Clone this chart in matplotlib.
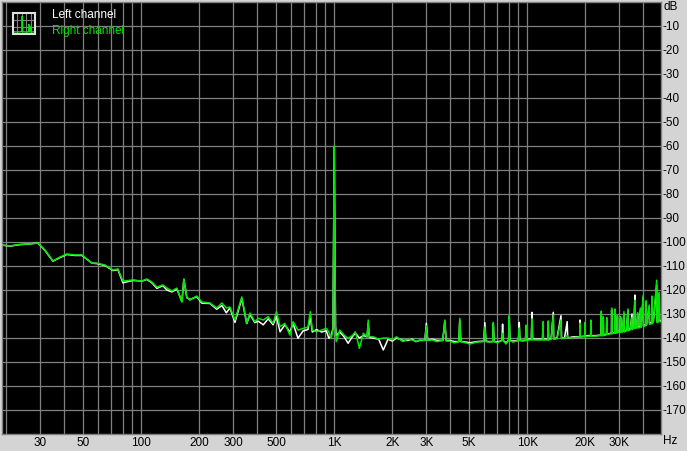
import matplotlib.pyplot as plt
from matplotlib.ticker import NullLocator

plt.rcParams['font.family'] = ['Liberation Sans', 'DejaVu Sans']

# spectrum, Hz / dB
freq = [19.0, 21.0, 23.5, 26.5, 29.1, 31.7, 34.9, 37.9, 41.2, 45.3, 49.3, 55.5, 58.9, 64.9,
        71.4, 75.7, 80.4, 90.6, 100.8, 107, 113.6, 120.6, 129.5, 135.9, 144.2, 153, 162.5,
        166.3, 172.3, 178.5, 194, 206, 227, 246, 262, 276, 288, 306, 332, 352, 366, 388,
        404, 429, 455, 482, 502, 524, 555, 589, 612, 649, 690, 730, 752, 770, 809, 859,
        910, 938, 964, 985, 1000, 1015, 1025, 1068, 1125, 1180, 1240, 1286, 1350, 1415,
        1480, 1500, 1520, 1590, 1700, 1795, 1900, 2000, 2100, 2270, 2400, 2530, 2650, 2770,
        2950, 3000, 3050, 3210, 3400, 3650, 3740, 3800, 3960, 4200, 4420, 4470, 4530, 4650,
        5050, 5480, 5950, 6030, 6110, 6300, 6620, 6670, 6730, 6980, 7400, 7450, 7500, 7756,
        8000, 8066, 8130, 8433, 9000, 9090, 9160, 9500, 9800, 9850, 9900, 10180, 10500,
        10580, 10660, 11100, 12000, 12060, 12120, 12500, 12800, 12850, 12900, 13300, 13640,
        13700, 14260, 14950, 15050, 15600, 16100, 16200, 17300, 18700, 18750, 18800, 19300,
        19850, 19910, 19970, 20600, 21300, 21380, 21460, 22600, 24100, 24180, 24300, 24700,
        24770, 24840, 25720, 25800, 25880, 26000, 27300, 27370, 27450, 28400, 28470, 28540,
        29220, 29300, 29380, 29500, 30400, 30480,
        30560, 31100, 31700, 31800, 32600, 33260, 33350, 34200, 34880, 34960, 35600, 36140,
        36240, 36800, 37340, 37440, 38500, 38600, 38700, 38800, 39900, 40000,
        41200, 41300, 41400, 41500, 42870, 42980, 44000, 44200, 44300, 44400, 45000,
        46830, 46950, 47600, 48300, 48450, 49300]

right_db = [-101.3, -101.6, -101.0, -100.8, -100.4, -103.3, -107.9, -106.3, -105.0, -105.4,
            -105.4, -108.8, -108.8, -109.6, -111.7, -111.2, -116.3, -115.8, -116.3, -115.4,
            -116.7, -118.8, -117.9, -119.2, -120.4, -119.2, -125.0, -115.4, -122.9, -124.2,
            -122.5, -125.0, -125.4, -127.5, -125.4, -127.5, -127.1, -132.5, -122.9, -133.8,
            -129.6, -133.2, -131.8, -132.5, -131.1, -133.9, -129.0, -135.3, -133.9, -138.8,
            -133.2, -136.7, -136.0, -135.5, -129.0, -136.7, -137.4, -136.7, -136.0, -137.5,
            -140.1, -136.5, -60.0, -135.0, -141.5, -136.7, -138.8, -140.1, -139.0, -137.4,
            -144.3, -138.0, -139.5, -132.5, -139.5, -139.5, -140.5, -140.0, -140.1, -140.8,
            -139.5, -141.5, -140.5, -140.8, -141.5, -140.8, -141.0, -134.9, -141.0, -140.8,
            -141.5, -141.0, -132.5, -141.3, -141.3, -142.0, -141.5, -131.8, -141.5, -141.7,
            -142.5, -141.7, -141.5, -135.4, -141.5, -141.7, -141.5, -133.5, -141.5, -142.0,
            -141.0, -138.0, -141.0, -142.5, -141.0, -130.7, -141.0, -141.7, -141.0, -135.8,
            -141.0, -141.3, -141.0, -134.6, -141.0, -140.8, -140.8, -132.0, -140.8, -140.8,
            -140.8, -133.2, -140.8, -140.8, -140.8, -132.9, -140.8, -140.5, -130.4, -140.5,
            -140.3, -132.5, -140.3, -140.0, -139.0, -140.0, -139.8, -139.6, -133.8, -139.6,
            -139.5, -139.5, -133.5, -139.5, -139.3, -139.3, -132.5, -139.3, -139.2, -139.0,
            -128.8, -139.0, -139.0, -131.1, -139.0, -138.6, -131.5, -138.6, -138.5, -138.2,
            -127.6, -138.2, -138.0, -127.9, -138.0, -137.8, -130.5, -137.8, -137.5, -137.5,
            -131.1, -137.5, -137.5, -129.0, -137.5, -137.0, -127.9, -137.0, -136.5, -131.5,
            -136.5, -136.0, -124.2, -136.0, -135.8, -129.5, -135.8, -135.6, -127.5, -135.6,
            -135.5, -122.1, -135.3, -134.7, -124.5, -134.6, -134.5, -126.3, -134.3, -134.0,
            -134.0, -122.5, -134.0, -133.5, -115.9, -133.5, -133.5, -121.1, -133.0, -133.3]

left_db = [-101.3, -101.7, -101.1, -100.8, -100.4, -103.5, -108.0, -106.5, -105.2, -105.6,
           -105.6, -108.8, -109.0, -109.8, -111.9, -111.5, -117.0, -116.0, -116.3, -115.6,
           -117.0, -119.3, -118.2, -120.0, -120.8, -119.6, -124.8, -115.6, -123.2, -124.0,
           -122.8, -125.5, -125.6, -128.0, -126.5, -129.5, -127.5, -133.5, -123.5, -134.0,
           -130.2, -133.6, -133.0, -134.5, -132.0, -134.5, -131.0, -137.4, -134.5, -137.5,
           -134.0, -140.1, -137.0, -136.5, -131.5, -137.5, -136.5, -137.5, -137.0, -140.1,
           -139.0, -136.0, -60.5, -135.0, -139.0, -137.5, -139.5, -142.2, -139.5, -138.0,
           -140.0, -139.0, -139.5, -134.0, -139.8, -140.0, -140.5, -145.0, -140.5, -141.3,
           -140.0, -141.0, -141.0, -140.5, -141.5, -141.0, -141.0, -133.9, -141.0, -140.5,
           -141.0, -141.0, -133.0, -141.0, -141.0, -141.5, -141.5, -132.5, -141.5, -141.5,
           -142.0, -141.5, -141.3, -133.6, -141.3, -141.5, -141.5, -134.0, -141.5, -141.7,
           -141.0, -134.2, -141.0, -142.0, -141.0, -131.5, -141.0, -141.3, -141.0, -133.5,
           -141.0, -141.0, -141.0, -135.0, -141.0, -140.5, -140.5, -129.3, -140.5, -140.5,
           -140.5, -134.0, -140.5, -140.5, -140.5, -133.5, -140.5, -140.3, -129.3, -140.3,
           -140.0, -130.7, -140.0, -140.0, -133.2, -140.0, -139.5, -139.5, -132.5, -139.5,
           -139.3, -139.3, -134.0, -139.3, -139.0, -139.0, -133.5, -139.0, -139.0, -138.8,
           -130.0, -138.8, -138.8, -132.0, -138.8, -138.4, -132.5, -138.4, -138.3, -138.0,
           -128.5, -138.0, -137.8, -129.0, -137.8, -137.5, -131.0, -137.5, -137.3, -137.3,
           -132.0, -137.3, -137.3, -130.0, -137.3, -136.8, -128.5, -136.8, -136.0, -130.0,
           -136.0, -135.8, -122.1, -135.8, -135.5, -130.5, -135.5, -135.3, -128.5, -135.3,
           -135.2, -123.0, -135.0, -134.3, -125.5, -134.2, -134.0, -127.0, -134.0, -133.5,
           -133.5, -124.0, -133.5, -133.0, -118.0, -133.0, -133.0, -123.0, -132.5, -133.0]

grid_freqs = [20, 30, 40, 50, 60, 70, 80, 90, 100, 200, 300, 400, 500, 600, 700, 800, 900,
              1000, 2000, 3000, 4000, 5000, 6000, 7000, 8000, 9000, 10000, 20000, 30000, 40000]
tick_freqs = [30, 50, 100, 200, 300, 500, 1000, 2000, 3000, 5000, 10000, 20000, 30000]
tick_labels = ['30', '50', '100', '200', '300', '500', '1K', '2K', '3K', '5K', '10K', '20K', '30K']
db_ticks = list(range(-10, -180, -10))

# small legend icon
icon_x = [0.0, 0.3, 0.4, 0.42, 0.44, 0.5, 0.7, 0.72, 0.74, 0.8, 0.82, 0.84, 1.0]
icon_y = [0.1, 0.1, 0.12, 0.85, 0.12, 0.1, 0.1, 0.45, 0.1, 0.1, 0.35, 0.1, 0.1]

W, H = 687, 451
grid_c = '#808080'
green = '#00e600'

fig = plt.figure(figsize=(W / 100, H / 100), dpi=100, facecolor='#d4d4d4')
ax = fig.add_axes([2 / W, 17 / H, 659 / W, 432 / H], facecolor='black')
ax.set_xscale('log')
ax.set_xlim(19, 49300)
ax.set_ylim(-180, 0)

for g in grid_freqs:
    ax.axvline(g, color=grid_c, lw=0.9, zorder=1)
for d in db_ticks:
    ax.axhline(d, color=grid_c, lw=0.9, zorder=1)

ax.plot(freq, left_db, color='white', lw=1.1, zorder=3)
ax.plot(freq, right_db, color=green, lw=1.1, zorder=4)

ax.set_xticks(tick_freqs, tick_labels)
ax.xaxis.set_minor_locator(NullLocator())
ax.tick_params(axis='x', length=0, pad=2, labelsize=8.5, colors='black')
ax.yaxis.tick_right()
ax.set_yticks(db_ticks, [str(d) for d in db_ticks])
ax.yaxis.set_minor_locator(NullLocator())
ax.tick_params(axis='y', length=0, pad=1, labelsize=8.5, colors='black')
for s in ax.spines.values():
    s.set_color(grid_c)
    s.set_linewidth(1)

fig.text(663 / W, 1 - 7 / H, 'dB', fontsize=8.5, va='center', ha='left')
fig.text(663 / W, 1 - 441 / H, 'Hz', fontsize=8.5, va='center', ha='left')

fig.text(52 / W, 1 - 15 / H, 'Left channel', fontsize=8.5, color='white', va='center')
fig.text(52 / W, 1 - 31 / H, 'Right channel', fontsize=8.5, color=green, va='center')

icon = fig.add_axes([13 / W, 1 - 34 / H, 22 / W, 21 / H], facecolor='black')
icon.set_xlim(0, 1)
icon.set_ylim(0, 1)
for v in [0.2, 0.4, 0.6, 0.8]:
    icon.axvline(v, color=grid_c, lw=0.8)
for v in [0.33, 0.66]:
    icon.axhline(v, color=grid_c, lw=0.8)
icon.plot(icon_x, icon_y, color=green, lw=1)
icon.set_xticks([])
icon.set_yticks([])
for s in icon.spines.values():
    s.set_color('#e0e0e0')
    s.set_linewidth(1.5)

fig.savefig('out.png', dpi=100, facecolor=fig.get_facecolor())
